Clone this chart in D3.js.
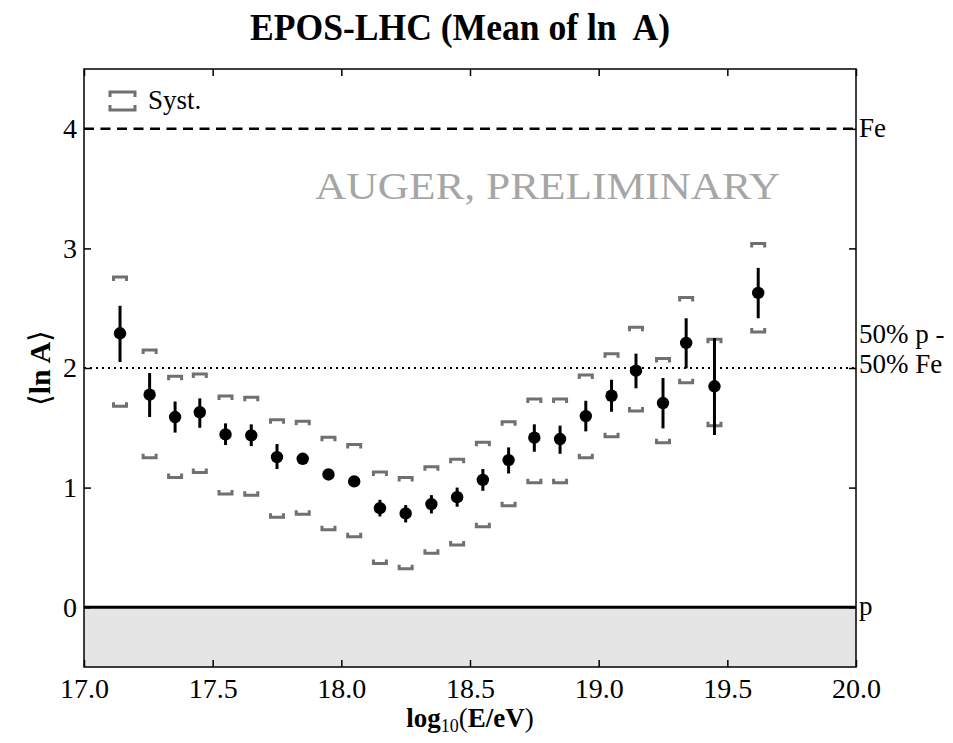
<!DOCTYPE html>
<html><head><meta charset="utf-8">
<script src="https://cdn.jsdelivr.net/npm/d3@7"></script>
<style>body{margin:0;background:#fff} svg text{font-family:"Liberation Serif","Times New Roman",serif;}</style>
</head><body>
<script>
const logE   = [17.14,17.255,17.354,17.45,17.55,17.65,17.75,17.85,17.95,18.05,18.15,18.25,18.35,18.45,18.55,18.65,18.75,18.85,18.95,19.05,19.145,19.25,19.34,19.45,19.62];
const meanLnA= [2.29,1.777,1.59,1.63,1.445,1.437,1.255,1.241,1.11,1.052,0.828,0.784,0.862,0.92,1.065,1.23,1.417,1.406,1.598,1.768,1.978,1.707,2.21,1.847,2.628];
const statHi = [2.52,1.958,1.72,1.746,1.537,1.529,1.364,1.241,1.11,1.052,0.898,0.854,0.937,1.0,1.155,1.336,1.529,1.518,1.726,1.902,2.12,1.916,2.416,2.25,2.837];
const statLo = [2.05,1.59,1.46,1.50,1.356,1.347,1.155,1.241,1.11,1.052,0.759,0.709,0.784,0.84,0.973,1.118,1.30,1.283,1.47,1.634,1.83,1.495,1.997,1.44,2.416];
const systHi = [2.76,2.15,1.93,1.95,1.766,1.755,1.567,1.554,1.42,1.361,1.13,1.085,1.174,1.236,1.38,1.55,1.74,1.74,1.941,2.12,2.34,2.08,2.59,2.24,3.04];
const systLo = [1.68,1.25,1.085,1.127,0.946,0.937,0.753,0.778,0.647,0.59,0.366,0.321,0.452,0.52,0.672,0.848,1.04,1.04,1.25,1.425,1.64,1.375,1.877,1.517,2.30];
const xTicks = [17.0,17.5,18.0,18.5,19.0,19.5,20.0];
const yTicks = [0,1,2,3,4];
const refLevels = [{v:4,label:["Fe"]},{v:2,label:["50% p -","50% Fe"]},{v:0,label:["p"]}];

const W=953,H=743;
const m={l:84,r:856,t:69,b:667};
const svg=d3.select("body").append("svg").attr("width",W).attr("height",H);
const x=d3.scaleLinear().domain([17,20]).range([m.l,m.r]);
const y=d3.scaleLinear().domain([-0.5,4.5]).range([m.b,m.t]);

svg.append("rect").attr("x",x(17)).attr("y",y(0)).attr("width",x(20)-x(17)).attr("height",y(-0.5)-y(0)).attr("fill","#e5e5e5");

svg.append("line").attr("x1",x(17)).attr("x2",x(20)).attr("y1",y(4)).attr("y2",y(4))
  .attr("stroke","#000").attr("stroke-width",2.5).attr("stroke-dasharray","10,6.5");
svg.append("line").attr("x1",x(17)).attr("x2",x(20)).attr("y1",y(2)).attr("y2",y(2))
  .attr("stroke","#000").attr("stroke-width",2).attr("stroke-dasharray","2,4");
svg.append("line").attr("x1",x(17)).attr("x2",x(20)).attr("y1",y(0)).attr("y2",y(0))
  .attr("stroke","#000").attr("stroke-width",3);

svg.append("text").attr("x",315).attr("y",199)
  .attr("font-size",37).attr("fill","#a6a6a6").attr("textLength",465).attr("lengthAdjust","spacingAndGlyphs")
  .text("AUGER, PRELIMINARY");

const axB=d3.axisBottom(x).tickValues(xTicks).tickFormat(d3.format(".1f")).tickSizeInner(-7).tickSizeOuter(0).tickPadding(11);
const axT=d3.axisTop(x).tickValues(xTicks).tickFormat("").tickSizeInner(-7).tickSizeOuter(0);
const axL=d3.axisLeft(y).tickValues(yTicks).tickFormat(d3.format("d")).tickSizeInner(-7).tickSizeOuter(0).tickPadding(7);
const axR=d3.axisRight(y).tickValues(yTicks).tickFormat("").tickSizeInner(-7).tickSizeOuter(0);
[[axB,`translate(0,${m.b})`],[axT,`translate(0,${m.t})`],[axL,`translate(${m.l},0)`],[axR,`translate(${m.r},0)`]].forEach(([a,t])=>{
  const gg=svg.append("g").attr("transform",t).call(a).attr("font-family",null);
  gg.selectAll(".domain").remove();
  gg.selectAll("line").attr("stroke","#000").attr("stroke-width",1.5);
  gg.selectAll("text").attr("font-size",28).attr("fill","#000");
});
svg.append("rect").attr("x",m.l).attr("y",m.t).attr("width",m.r-m.l).attr("height",m.b-m.t)
  .attr("fill","none").attr("stroke","#000").attr("stroke-width",1.5);

const bw=8, bt=4;
const sg=svg.append("g").attr("stroke","#707070").attr("stroke-width",3).attr("fill","none");
logE.forEach((e,i)=>{
  const cx=x(e), yh=y(systHi[i]), yl=y(systLo[i]);
  sg.append("path").attr("d",`M${cx-bw+1.5},${yh+bt}V${yh}H${cx+bw-1.5}V${yh+bt}`);
  sg.append("path").attr("d",`M${cx-bw+1.5},${yl-bt}V${yl}H${cx+bw-1.5}V${yl-bt}`);
});

const pg=svg.append("g");
logE.forEach((e,i)=>{
  pg.append("line").attr("x1",x(e)).attr("x2",x(e)).attr("y1",y(statHi[i])).attr("y2",y(statLo[i]))
    .attr("stroke","#000").attr("stroke-width",3);
  pg.append("circle").attr("cx",x(e)).attr("cy",y(meanLnA[i])).attr("r",6.2).attr("fill","#000");
});

refLevels.forEach(r=>{
  const t=svg.append("text").attr("x",m.r+3).attr("font-size",27).attr("fill","#000");
  if(r.label.length===1){
    t.attr("y",y(r.v)+8).text(r.label[0]);
  } else {
    t.append("tspan").attr("x",m.r+3).attr("y",y(r.v)-25).text(r.label[0]);
    t.append("tspan").attr("x",m.r+3).attr("y",y(r.v)+5).text(r.label[1]);
  }
});

const lg=svg.append("g").attr("stroke","#707070").attr("stroke-width",3).attr("fill","none");
lg.append("path").attr("d",`M110,97V92H135V97`);
lg.append("path").attr("d",`M110,105V110H135V105`);
svg.append("text").attr("x",148).attr("y",109).attr("font-size",27).text("Syst.");

svg.append("text").attr("x",250).attr("y",40).attr("font-size",37)
  .attr("font-weight","bold").attr("textLength",420).attr("lengthAdjust","spacingAndGlyphs")
  .text("EPOS-LHC (Mean of ln\u00a0 A)");

const xl=svg.append("text").attr("x",470).attr("y",727).attr("text-anchor","middle").attr("font-size",27).attr("font-weight","bold");
xl.append("tspan").text("log");
xl.append("tspan").attr("font-size",18).attr("font-weight","normal").attr("dy",5).text("10");
xl.append("tspan").attr("dy",-5).attr("font-weight","normal").text("(");
xl.append("tspan").text("E/eV");
xl.append("tspan").attr("font-weight","normal").text(")");

const yl=svg.append("text").attr("transform",`translate(50,${y(2)}) rotate(-90)`).attr("text-anchor","middle").attr("font-size",30);
yl.append("tspan").text("\u27e8");
yl.append("tspan").attr("font-weight","bold").text("ln A");
yl.append("tspan").text("\u27e9");
</script>
</body></html>
